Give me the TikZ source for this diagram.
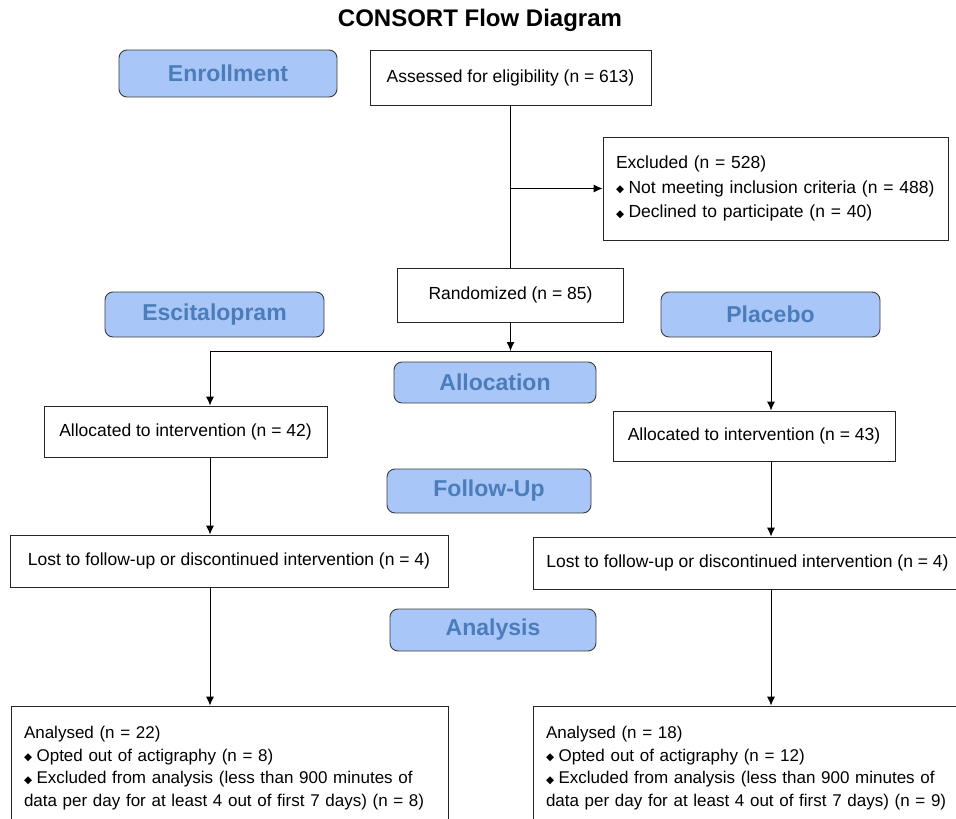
\documentclass[tikz,border=0pt]{standalone}
\usepackage{fontspec}
\setmainfont{Liberation Sans}
\newfontfamily\bulletfont{DejaVu Sans}
\usepackage{tikz}
\usetikzlibrary{calc}
\usetikzlibrary{arrows.meta}

\definecolor{stageFill}{HTML}{A9C6F8}
\definecolor{stageText}{HTML}{4B7DBA}
\definecolor{boxLine}{HTML}{262626}

\newcommand{\bul}{\raisebox{0.5pt}{\bulletfont\fontsize{10.5}{10.5}\selectfont ◆}\hspace{4.5pt}}

\begin{document}
\begin{tikzpicture} [>={Latex[length=9pt,width=8pt]}, x=1pt, y=-1pt]
            % Set primary nodes
            \tikzset{
                entity/.style={
                        rectangle,
                        draw=boxLine,
                        line width=0.9pt,
                        inner sep=0pt,
                        font=\fontsize{17.5}{22.5}\selectfont
                    }
            }
            \tikzset{
                listNode/.style={
                        entity,
                        align=left,
                        inner xsep=13pt
                    }
            }
            \tikzset{
                stageNode/.style={
                        rectangle,
                        draw=boxLine!90,
                        fill=stageFill,
                        line width=0.9pt,
                        rounded corners=8pt,
                        text=stageText,
                        font=\fontsize{23}{23}\selectfont\bfseries
                    }
            }
            \clip (0,0) rectangle (956,819);
            \fill[white] (0,0) rectangle (956,819);
            % Placing nodes
            \node[font=\fontsize{24}{24}\selectfont\bfseries](title) at (480,20){CONSORT Flow Diagram};
            \node[stageNode, minimum width=218pt, minimum height=47pt](enroll) at (228,73.5){Enrollment};
            \node[entity, minimum width=281pt, minimum height=55pt](assessed) at (510.5,77.5){Assessed for eligibility (n = 613)};
            \node[listNode, text width=319pt, minimum height=103pt, font=\fontsize{17.5}{24.5}\selectfont](excluded) at (775.5,188.5){Excluded (n = 528)\\
                \bul Not meeting inclusion criteria (n = 488)\\
                \bul Declined to participate (n = 40)};
            \node[entity, minimum width=226pt, minimum height=54pt](randomized) at (510.5,295){Randomized (n = 85)};
            \node[stageNode, minimum width=219pt, minimum height=45pt](escit) at (214.5,314.5){Escitalopram};
            \node[stageNode, minimum width=219pt, minimum height=45pt](placebo) at (770.5,314.5){Placebo};
            \node[stageNode, minimum width=202pt, minimum height=41pt](allocation) at (495,382.5){Allocation};
            \node[entity, minimum width=283pt, minimum height=51pt](allocL) at (185.5,431.5){Allocated to intervention (n = 42)};
            \node[entity, minimum width=282pt, minimum height=50pt](allocR) at (754,436){Allocated to intervention (n = 43)};
            \node[stageNode, minimum width=204pt, minimum height=44pt](followup) at (489,491){Follow-Up};
            \node[entity, minimum width=438pt, minimum height=52pt](lostL) at (229,561){Lost to follow-up or discontinued intervention (n = 4)};
            \node[entity, minimum width=429pt, minimum height=52pt](lostR) at (747.5,563){Lost to follow-up or discontinued intervention (n = 4)};
            \node[stageNode, minimum width=206pt, minimum height=42pt](analysis) at (493,630){Analysis};
            \node[listNode, text width=411pt, minimum height=124pt, font=\fontsize{17}{22.5}\selectfont](analysedL) at (229.5,768){Analysed (n = 22)\\
                \bul Opted out of actigraphy (n = 8)\\
                \mbox{\bul Excluded from analysis (less than 900 minutes of}\\
                \mbox{data per day for at least 4 out of first 7 days) (n = 8)}};
            \node[listNode, text width=413pt, minimum height=124pt, font=\fontsize{17}{22.5}\selectfont](analysedR) at (752.5,768){Analysed (n = 18)\\
                \bul Opted out of actigraphy (n = 12)\\
                \mbox{\bul Excluded from analysis (less than 900 minutes of}\\
                \mbox{data per day for at least 4 out of first 7 days) (n = 9)}};
            \coordinate (split) at (assessed.south |- excluded.west);
            \coordinate (fork) at (510.5,351);
            \coordinate (forkL) at (210,351);
            \coordinate (forkR) at (771,351);
            % Placing arrows
            \draw[line width=0.9pt] (assessed) -- (randomized);
            \draw[->, line width=0.9pt] (split) -- (excluded);
            \draw[->, line width=0.9pt] (randomized) -- (fork);
            \draw[line width=0.9pt] (forkL) -- (forkR);
            \draw[->, line width=0.9pt] (forkL) -- (forkL |- allocL.north);
            \draw[->, line width=0.9pt] (forkR) -- (forkR |- allocR.north);
            \draw[->, line width=0.9pt] (forkL |- allocL.south) -- (forkL |- lostL.north);
            \draw[->, line width=0.9pt] (forkR |- allocR.south) -- (forkR |- lostR.north);
            \draw[->, line width=0.9pt] (forkL |- lostL.south) -- (forkL |- analysedL.north);
            \draw[->, line width=0.9pt] (forkR |- lostR.south) -- (forkR |- analysedR.north);
        \end{tikzpicture}
\end{document}
